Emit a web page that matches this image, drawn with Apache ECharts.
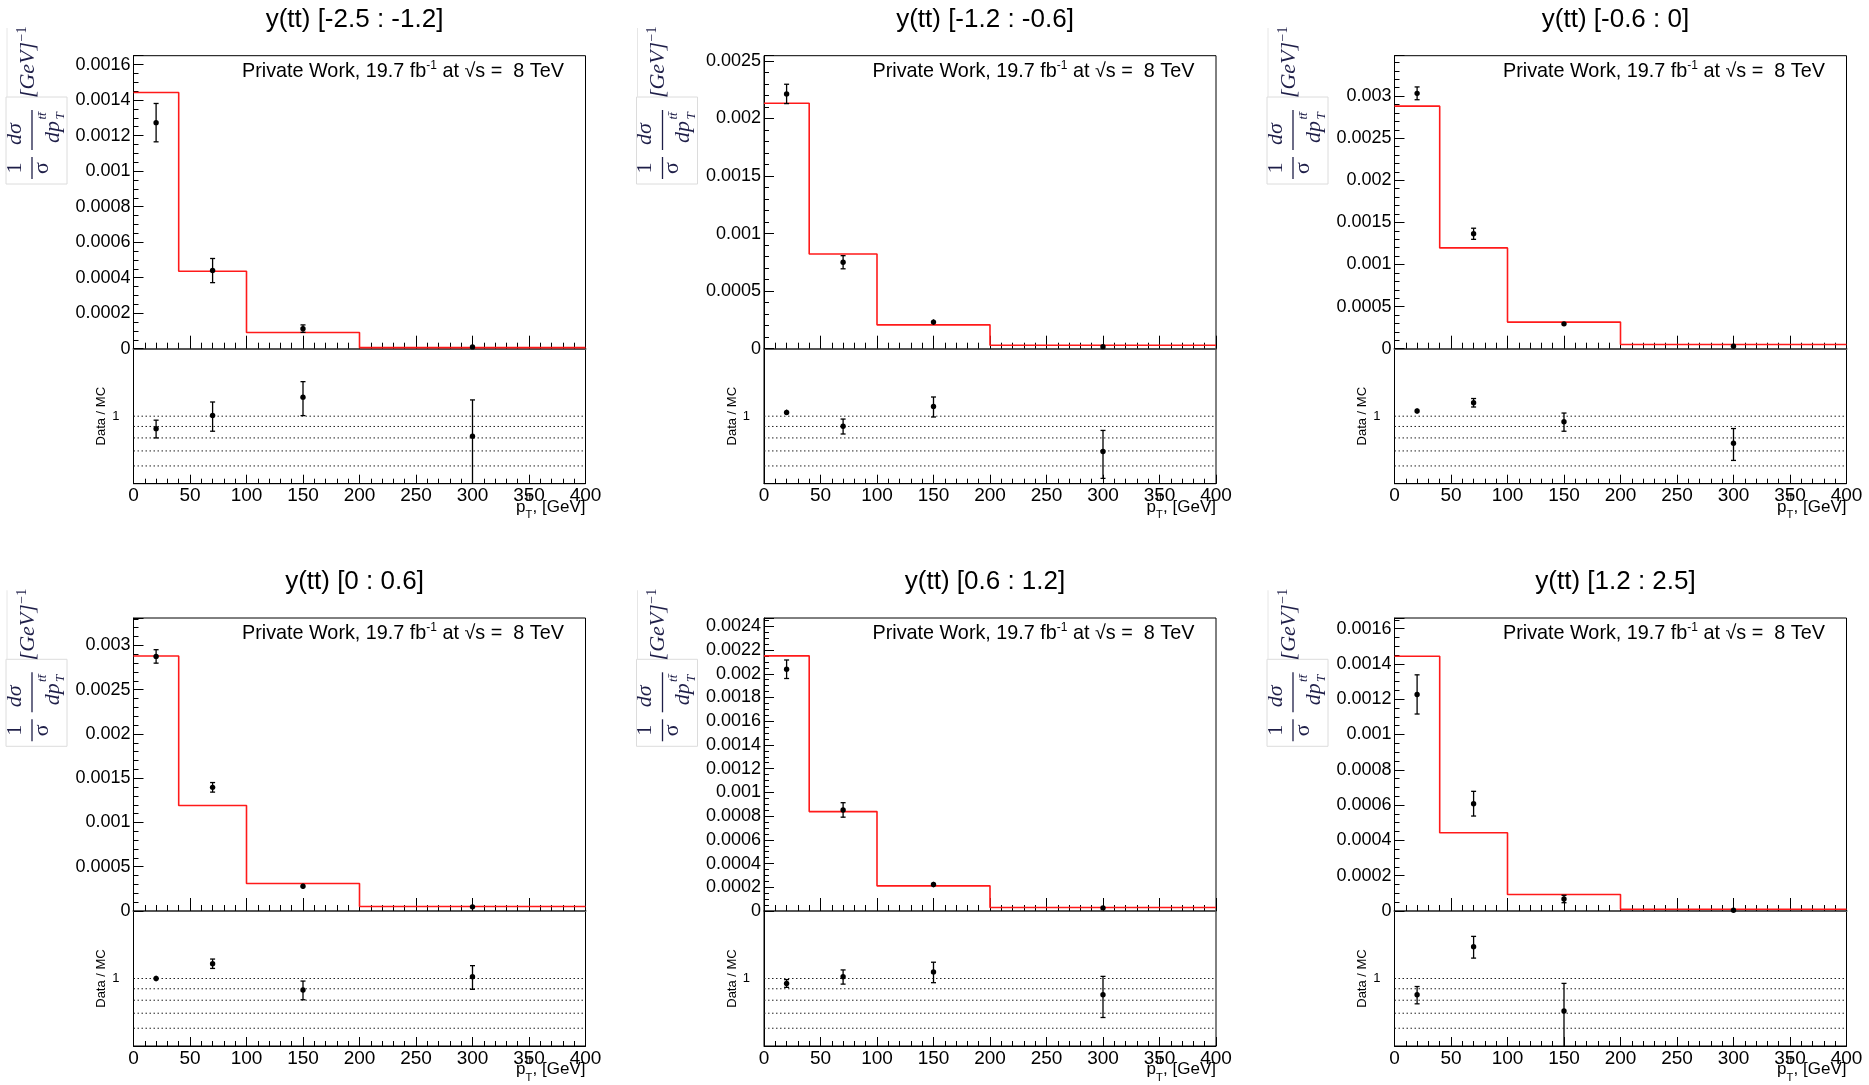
<!DOCTYPE html>
<html>
<head>
<meta charset="utf-8">
<title>pT(tt) in bins of y(tt)</title>
<script src="https://cdn.jsdelivr.net/npm/echarts@6/dist/echarts.min.js"></script>
<style>
  html, body { margin: 0; padding: 0; background: #fff; }
  #main { width: 1869px; height: 1085px; }
</style>
</head>
<body>
<div id="main"></div>
<script>
// pT(tt) binning [GeV]
var binEdges = [0, 40, 100, 200, 400];
var binCenters = [20, 70, 150, 300];

var panelTitles = ['y(tt) [-2.5 : -1.2]', 'y(tt) [-1.2 : -0.6]', 'y(tt) [-0.6 : 0]',
                   'y(tt) [0 : 0.6]', 'y(tt) [0.6 : 1.2]', 'y(tt) [1.2 : 2.5]'];

// MC prediction (red histogram), one row per panel
var mcValues = [
    [0.001443, 0.000436, 0.0000915, 0.000006],
    [0.002132, 0.000823, 0.000207, 0.00003],
    [0.002881, 0.001197, 0.000316, 0.000049],
    [0.00288, 0.001191, 0.00031, 0.00005],
    [0.002151, 0.000838, 0.000212, 0.000029],
    [0.001443, 0.000443, 0.0000933, 0.0000097]
];
// data points and their errors
var dataValues = [
    [0.001273, 0.00044, 0.000113, 0.00001],
    [0.002213, 0.000751, 0.000231, 0.000018],
    [0.003033, 0.001365, 0.000295, 0.000029],
    [0.002876, 0.001397, 0.000279, 0.000047],
    [0.002038, 0.000852, 0.000223, 0.000026],
    [0.001227, 0.000608, 0.000068, 0.000004]
];
var dataErrors = [
    [0.000108, 0.000068, 0.000021, 0.000005],
    [0.000084, 0.000057, 0.000024, 0.00001],
    [0.000076, 0.000066, 0.00002, 0.00003],
    [0.000076, 0.000054, 0.000029, 0.00002],
    [0.000078, 0.000061, 0.000023, 0.00001],
    [0.000111, 0.00007, 0.000021, 0.000004]
];
// Data / MC
var ratioValues = [
    [0.88, 1.007, 1.216, 0.814],
    [1.04, 0.902, 1.105, 0.696],
    [1.055, 1.149, 0.945, 0.758],
    [1.0, 1.165, 0.889, 1.018],
    [0.951, 1.018, 1.07, 0.846],
    [0.846, 1.387, 0.716, null]
];
var ratioErrors = [
    [0.08, 0.15, 0.21, 0.368],
    [0.03, 0.069, 0.113, 0.168],
    [0.026, 0.05, 0.088, 0.123],
    [0.028, 0.056, 0.085, 0.123],
    [0.038, 0.074, 0.112, 0.176],
    [0.075, 0.154, 0.235, null]
];

// upper pad y axes
var yMax = [0.00165, 0.002545, 0.00348, 0.00331, 0.00247, 0.00166];
var yInterval = [0.0002, 0.0005, 0.0005, 0.0005, 0.0002, 0.0002];
var yMinorSplit = [4, 5, 5, 5, 4, 4];
var xTickStep = 50;
var ratioGuides = [1, 0.9, 0.8, 0.7, 0.6];

// layout
var colLeft = [133.5, 764, 1394.5];
var rowTop = [55.7, 618];
var padW = 452, upH = 293, loH = 135;
var sans = "'Liberation Sans', Arial, Helvetica, sans-serif";
var serif = "'Liberation Serif', 'DejaVu Serif', serif";

function errBar(params, api) {
    var x = api.value(0), y = api.value(1), e = api.value(2);
    var cs = params.coordSys;
    var yTop = cs.y, yBot = cs.y + cs.height;
    var c = api.coord([x, y]);
    var hi = api.coord([x, y + e])[1];
    var lo = api.coord([x, Math.max(y - e, 1e-9)])[1];
    var loClip = lo > yBot, hiClip = hi < yTop;
    lo = Math.min(lo, yBot);
    hi = Math.max(hi, yTop);
    var kids = [{ type: 'line', shape: { x1: c[0], y1: hi, x2: c[0], y2: lo }, style: { stroke: '#000', lineWidth: 1.3 } }];
    if (lo - hi > 7) {
        if (!hiClip) kids.push({ type: 'line', shape: { x1: c[0] - 2.5, y1: hi, x2: c[0] + 2.5, y2: hi }, style: { stroke: '#000', lineWidth: 1.3 } });
        if (!loClip) kids.push({ type: 'line', shape: { x1: c[0] - 2.5, y1: lo, x2: c[0] + 2.5, y2: lo }, style: { stroke: '#000', lineWidth: 1.3 } });
    }
    kids.push({ type: 'circle', shape: { cx: c[0], cy: c[1], r: 2.7 }, style: { fill: '#000' } });
    return { type: 'group', children: kids };
}

function guideLine(params, api) {
    var cs = params.coordSys;
    var y = api.coord([0, api.value(1)])[1];
    return { type: 'line', shape: { x1: cs.x, y1: y, x2: cs.x + cs.width, y2: y },
             style: { stroke: '#222', lineWidth: 1, lineDash: [1.5, 2.5] } };
}

// rotated 1/sigma dsigma/dpT [GeV]^-1 label
function yTitle(dx, dy) {
    var col = '#1e1e48';
    function t(txt, x, y, size, italic) {
        return { type: 'text', x: x, y: y, style: { text: txt, fontFamily: serif, fontSize: size,
                 fontStyle: italic ? 'italic' : 'normal', fill: col, align: 'center', verticalAlign: 'middle' } };
    }
    return [
        { type: 'rect', shape: { x: 6 + dx, y: 97 + dy, width: 61, height: 87 },
          style: { fill: 'none', stroke: '#dcdcdc', lineWidth: 1 } },
        { type: 'line', shape: { x1: 7 + dx, y1: 28 + dy, x2: 7 + dx, y2: 97 + dy },
          style: { stroke: '#e6e6e6', lineWidth: 1 } },
        { type: 'group', x: 32 + dx, y: 140 + dy, rotation: Math.PI / 2, children: [
            t('1', -28, -17, 22), t('σ', -28, 10, 22),
            { type: 'line', shape: { x1: -39, y1: 0, x2: -17, y2: 0 }, style: { stroke: col, lineWidth: 1.3 } },
            t('dσ', 6, -17, 22, true),
            { type: 'line', shape: { x1: -10, y1: 0, x2: 30, y2: 0 }, style: { stroke: col, lineWidth: 1.3 } },
            t('dp', 8, 21, 22, true),
            t('tt̄', 24, 11, 13, true),
            t('T', 24, 29, 13, true),
            t('[GeV]', 70, -4, 22, true),
            t('−1', 106, -10, 14)
        ] }
    ];
}

function xTitle(right, yc) {
    var s = function (txt, x, y, size, align) {
        return { type: 'text', x: x, y: y, style: { text: txt, fontFamily: sans, fontSize: size,
                 fill: '#000', align: align, verticalAlign: 'middle' } };
    };
    return [
        s(', [GeV]', right, yc, 17, 'right'),
        s('p', right - 60, yc, 17, 'right'),
        s('tt', right - 60, yc - 9, 11, 'left'),
        s('T', right - 60, yc + 8, 11, 'left')
    ];
}

function buildOption() {
    var grids = [], xAxes = [], yAxes = [], series = [], graphics = [];

    for (var p = 0; p < 6; p++) {
        var col = p % 3, row = Math.floor(p / 3);
        var px = colLeft[col], py = rowTop[row];
        var gu = 2 * p, gl = 2 * p + 1;

        grids.push({ left: px, top: py, width: padW, height: upH, show: true, borderColor: '#000', borderWidth: 1 });
        grids.push({ left: px, top: py + upH, width: padW, height: loH, show: true, borderColor: '#000', borderWidth: 1 });

        xAxes.push({
            type: 'value', gridIndex: gu, min: binEdges[0], max: binEdges[binEdges.length - 1], interval: xTickStep,
            axisLine: { show: true, onZero: false, lineStyle: { color: '#555', width: 2 } },
            axisTick: { show: true, inside: true, length: 13, lineStyle: { color: '#000' } },
            minorTick: { show: true, splitNumber: 5, length: 6, lineStyle: { color: '#000' } },
            axisLabel: { show: false }, splitLine: { show: false }
        });
        xAxes.push({
            type: 'value', gridIndex: gl, min: binEdges[0], max: binEdges[binEdges.length - 1], interval: xTickStep,
            axisLine: { show: true, onZero: false, lineStyle: { color: '#000', width: 1 } },
            axisTick: { show: true, inside: true, length: 9, lineStyle: { color: '#000' } },
            minorTick: { show: true, splitNumber: 5, length: 5, lineStyle: { color: '#000' } },
            axisLabel: { show: true, fontSize: 19, color: '#000', fontFamily: sans, margin: 3,
                         showMinLabel: true, showMaxLabel: true },
            splitLine: { show: false }
        });

        yAxes.push({
            type: 'value', gridIndex: gu, min: 0, max: yMax[p], interval: yInterval[p],
            axisLine: { show: true, lineStyle: { color: '#000' } },
            axisTick: { show: true, inside: true, length: 10, lineStyle: { color: '#000' } },
            minorTick: { show: true, splitNumber: yMinorSplit[p], length: 5, lineStyle: { color: '#000' } },
            axisLabel: { fontSize: 18, color: '#000', fontFamily: sans, margin: 3, showMaxLabel: false },
            splitLine: { show: false }
        });
        yAxes.push({
            type: 'log', logBase: 10, gridIndex: gl, min: 0.5, max: 2,
            axisLine: { show: true, lineStyle: { color: '#000' } },
            axisTick: { show: false }, minorTick: { show: false }, splitLine: { show: false },
            axisLabel: { fontSize: 13, color: '#000', fontFamily: sans, margin: 14,
                         formatter: function (v) { return Math.abs(v - 1) < 1e-6 ? '1' : ''; } },
            name: 'Data / MC', nameLocation: 'middle', nameRotate: 90, nameGap: 23,
            nameTextStyle: { fontSize: 13, color: '#000', fontFamily: sans }
        });

        var mc = mcValues[p];
        series.push({
            type: 'line', xAxisIndex: gu, yAxisIndex: gu, step: 'end', symbol: 'none', silent: true, z: 3,
            lineStyle: { color: '#ff1a1a', width: 1.6 },
            data: binEdges.map(function (e, k) { return [e, mc[Math.min(k, mc.length - 1)]]; })
        });
        series.push({
            type: 'custom', xAxisIndex: gu, yAxisIndex: gu, z: 4, silent: true,
            encode: { x: 0, y: 1 }, renderItem: errBar,
            data: binCenters.map(function (x, k) { return [x, dataValues[p][k], dataErrors[p][k]]; })
        });
        series.push({
            type: 'custom', xAxisIndex: gl, yAxisIndex: gl, z: 2, silent: true,
            encode: { x: 0, y: 1 }, renderItem: guideLine,
            data: ratioGuides.map(function (v) { return [0, v]; })
        });
        var rd = [];
        for (var k = 0; k < binCenters.length; k++) {
            if (ratioValues[p][k] != null) rd.push([binCenters[k], ratioValues[p][k], ratioErrors[p][k]]);
        }
        series.push({
            type: 'custom', xAxisIndex: gl, yAxisIndex: gl, z: 4, silent: true,
            encode: { x: 0, y: 1 }, renderItem: errBar, data: rd
        });

        // titles and labels
        graphics.push({ type: 'text', x: px + padW / 2 - 5, y: py - 36,
            style: { text: panelTitles[p], fontFamily: sans, fontSize: 26, fill: '#000', align: 'center', verticalAlign: 'middle' } });
        graphics.push({ type: 'text', x: px + 108.5, y: py + 15,
            style: { text: '{a|Private Work, 19.7 fb}{s|-1}{a| at √s =  8 TeV}', align: 'left', verticalAlign: 'middle',
                     rich: { a: { fontSize: 19.8, fontFamily: sans, fill: '#000', lineHeight: 22, verticalAlign: 'bottom' },
                             s: { fontSize: 12, fontFamily: sans, fill: '#000', lineHeight: 22, verticalAlign: 'top' } } } });
        graphics = graphics.concat(yTitle(px - 133.5, py - 55.7));
        graphics = graphics.concat(xTitle(px + padW, py + upH + loH + 23.5));
    }

    return {
        animation: false,
        backgroundColor: '#fff',
        grid: grids,
        xAxis: xAxes,
        yAxis: yAxes,
        series: series,
        graphic: graphics
    };
}

var chart = echarts.init(document.getElementById('main'), null, { renderer: 'canvas' });
chart.setOption(buildOption());
</script>
</body>
</html>
